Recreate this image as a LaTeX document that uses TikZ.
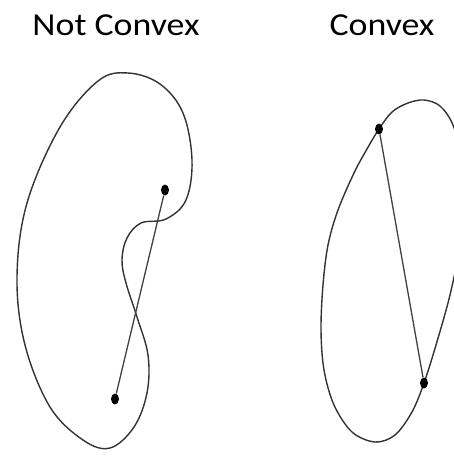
\documentclass[tikz,border=0pt]{standalone}
\usepackage{fontspec}
\setmainfont{Carlito}[FakeStretch=1.12]
\usetikzlibrary{shapes,positioning,calc}

\tikzset{
  outline/.style={draw=black!80, line width=1.4pt},
  chord/.style={draw=black!75, line width=1.3pt},
  pt/.style={draw=none, fill=black, ellipse, inner sep=0pt, minimum width=8pt, minimum height=11pt},
  title/.style={font=\fontsize{32}{38}\selectfont, anchor=base}
}

\begin{document}
\begin{tikzpicture}[x=1pt, y=-1pt]
\useasboundingbox (0,0) rectangle (454,459);
\clip (0,0) rectangle (454,459);

% Titles
\node[title] (lbl1) at (116,35) {Not Convex};
\node[title] (lbl2) at (382,35) {Convex};

% Not convex set
\draw[outline] plot[smooth cycle, tension=0.6] coordinates {
  (128,73) (160,84) (183,113) (192,160) (186,200) (166,219) (141,223)
  (127,238) (122,260) (126,283) (137,317) (148,355) (147,393) (134,427)
  (110,448) (83,440) (50,407) (25,345) (17,277) (27,203) (60,127) (98,81)};

\node[pt] (a1) at (165,190) {};
\node[pt] (a2) at (115,399) {};
\draw[chord] (a1) -- (a2);

% Convex set
\draw[outline] plot[smooth cycle, tension=0.55] coordinates {
  (379,129) (392,112) (408,103) (424,100) (440,106) (453,125) (462,160)
  (465,200) (460,245) (450,295) (436,345) (424,383) (412,412) (395,435)
  (375,442) (352,432) (334,405) (324,370) (321,330) (323,285) (328,245)
  (338,210) (354,173) (367,149)};

\node[pt] (b1) at (379,129) {};
\node[pt] (b2) at (424,383) {};
\draw[chord] (b1) -- (b2);

\end{tikzpicture}
\end{document}
